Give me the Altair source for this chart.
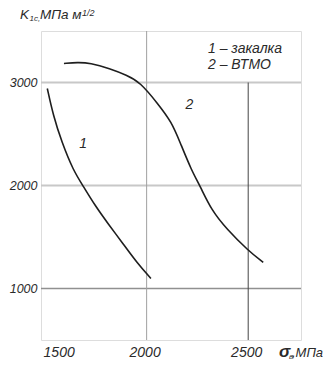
import altair as alt
import pandas as pd

# Curve 1 – закалка
c1_x = [1511, 1540, 1582, 1639, 1686, 1746, 1811, 1885, 1951, 2021]
c1_y = [2942, 2682, 2422, 2146, 2000, 1805, 1627, 1432, 1253, 1097]
# Curve 2 – ВТМО
c2_x = [1593, 1660, 1721, 1819, 1902, 1967, 2057, 2123, 2164, 2221, 2262, 2320, 2394, 2500, 2574]
c2_y = [3185, 3195, 3190, 3136, 3071, 3006, 2790, 2616, 2422, 2146, 2000, 1757, 1578, 1367, 1253]

x_ticks = [1500, 2000, 2500]
y_ticks = [1000, 2000, 3000]
x_domain = [1480, 2760]
y_domain = [500, 3500]

FONT = "Liberation Sans"
INK = "#2a2a2a"

curves = pd.concat([
    pd.DataFrame({"x": c1_x, "y": c1_y, "s": "1"}),
    pd.DataFrame({"x": c2_x, "y": c2_y, "s": "2"}),
])

xs = alt.Scale(domain=x_domain, nice=False, zero=False)
ys = alt.Scale(domain=y_domain, nice=False, zero=False)

xaxis = alt.Axis(values=x_ticks, title=None, grid=False, domain=False, ticks=False, format="d",
                 labelFont=FONT, labelFontStyle="italic", labelFontSize=14, labelColor=INK,
                 labelPadding=5, labelOffset=-2,
                 labelAlign={"condition": {"test": "datum.value == 1500", "value": "left"}, "value": "center"})
yaxis = alt.Axis(values=y_ticks, title=None, grid=False, domain=False, ticks=False, format="d",
                 labelFont=FONT, labelFontStyle="italic", labelFontSize=12.5, labelColor=INK,
                 labelPadding=4)

hgrid = pd.DataFrame({"y": y_ticks, "c": ["#909090", "#c8c8c8", "#c8c8c8"], "w": [1.5, 2, 2]})
vgrid = pd.DataFrame({"x": [2000, 2500], "y": [500, 500], "y2": [3500, 3000],
                      "c": ["#a0a0a0", "#454545"]})

h = alt.Chart(hgrid).mark_rule().encode(
    y=alt.Y("y:Q", scale=ys, axis=yaxis),
    color=alt.Color("c:N", scale=None),
    strokeWidth=alt.StrokeWidth("w:Q", scale=None),
)
v = alt.Chart(vgrid).mark_rule(strokeWidth=1).encode(
    x=alt.X("x:Q", scale=xs, axis=xaxis),
    y=alt.Y("y:Q", scale=ys),
    y2="y2:Q",
    color=alt.Color("c:N", scale=None),
)
lines = alt.Chart(curves).mark_line(color="#1e1e1e", strokeWidth=1.6, interpolate="basis").encode(
    x=alt.X("x:Q", scale=xs),
    y=alt.Y("y:Q", scale=ys),
    detail="s:N",
)

curve_labels = pd.DataFrame({"x": [1688, 2210], "y": [2406, 2779], "t": ["1", "2"]})
clab = alt.Chart(curve_labels).mark_text(font=FONT, fontStyle="italic", fontSize=14, color=INK).encode(
    x=alt.X("x:Q", scale=xs), y=alt.Y("y:Q", scale=ys), text="t:N")

legend_lines = pd.DataFrame({"t": ["1 – закалка", "2 – ВТМО"], "px": [167, 167], "py": [22, 38]})
leg = alt.Chart(legend_lines).mark_text(font=FONT, fontStyle="italic", fontSize=14, color=INK,
                                        align="left", baseline="alphabetic").encode(
    x=alt.X("px:Q", scale=None), y=alt.Y("py:Q", scale=None), text="t:N")

# axis titles built from pieces (sub/superscripts)
title_parts = pd.DataFrame({
    "t": ["K", "1c,", "МПа м", "1/2", "в", ",МПа"],
    "px": [-21, -11.5, -1, 41, 248, 251],
    "py": [-12, -10, -12, -15, 328, 326],
    "fs": [13.5, 8, 13.5, 9, 8, 13],
})
tparts = alt.Chart(title_parts).mark_text(font=FONT, fontStyle="italic", color=INK,
                                          align="left", baseline="alphabetic").encode(
    x=alt.X("px:Q", scale=None), y=alt.Y("py:Q", scale=None), text="t:N",
    size=alt.Size("fs:Q", scale=None))
sigma = pd.DataFrame({"t": ["σ"], "px": [238], "py": [326]})
tsig = alt.Chart(sigma).mark_text(font=FONT, fontStyle="italic", fontWeight="bold", fontSize=17,
                                  color=INK, align="left", baseline="alphabetic").encode(
    x=alt.X("px:Q", scale=None), y=alt.Y("py:Q", scale=None), text="t:N")

chart = alt.layer(h, v, lines, clab, leg, tparts, tsig).properties(
    width=260, height=309,
    autosize=alt.AutoSizeParams(type="none"),
    padding={"left": 33, "top": 23, "right": 22, "bottom": 20},
).configure_view(stroke="#a0a0a0", strokeWidth=2).configure(background="white")

chart.save("out.html", embed_options={"renderer": "svg", "actions": False})
